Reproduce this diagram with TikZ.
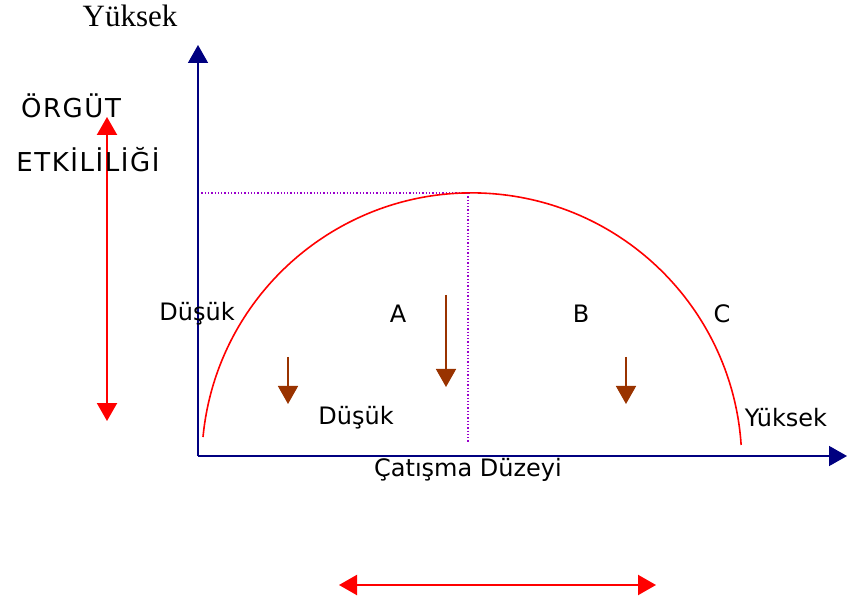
\documentclass[tikz,border=0pt]{standalone}
\usepackage{fontspec}
\setmainfont{DejaVu Sans}
\newfontfamily\serifnm{Liberation Serif}
\usetikzlibrary{arrows.meta}
\definecolor{axisblue}{RGB}{0,0,128}
\definecolor{curvered}{RGB}{255,0,0}
\definecolor{brownarr}{RGB}{153,51,0}
\definecolor{guidepurple}{RGB}{153,0,204}
\tikzset{
  lbl/.style={inner sep=0pt, font=\fontsize{24}{28}\selectfont},
  widelbl/.style={inner sep=0pt, font=\fontsize{26}{30}\selectfont\addfontfeature{LetterSpace=6}},
  axisline/.style={draw=axisblue, line width=1.6pt, -{Triangle[length=18pt,width=20pt]}},
  redarrow/.style={draw=curvered, line width=2.2pt, {Triangle[length=18pt,width=20pt]}-{Triangle[length=18pt,width=20pt]}},
  brownarrow/.style={draw=brownarr, line width=1.6pt, -{Triangle[length=18pt,width=20pt]}},
  guide/.style={draw=guidepurple, line width=1.3pt, dotted},
  curve/.style={draw=curvered, line width=1.6pt}
}
\begin{document}
\begin{tikzpicture}[x=1pt,y=-1pt]
\useasboundingbox (0,0) rectangle (847,604);
% coordinates
\coordinate (origin) at (198,456);
\coordinate (ytop) at (198,45);
\coordinate (xend) at (847,456);
\coordinate (peak) at (470,193);
\coordinate (yguide) at (198,193);
\coordinate (xguide) at (468,443);
\coordinate (rvtop) at (107,117);
\coordinate (rvbot) at (107,421);
\coordinate (rhl) at (339,585);
\coordinate (rhr) at (656,585);
\coordinate (b1s) at (288,357); \coordinate (b1e) at (288,404);
\coordinate (b2s) at (446,295); \coordinate (b2e) at (446,387);
\coordinate (b3s) at (626,357); \coordinate (b3e) at (626,404);
% guides
\draw[guide] (yguide) -- (peak);
\draw[guide] (468,193) -- (xguide);
% axes
\draw[axisline] (origin) -- (ytop);
\draw[axisline] (origin) -- (xend);
% curve
\draw[curve] (203,437) arc[start angle=-174.5, end angle=-3.8, radius=270];
% red arrows
\draw[redarrow] (rvtop) -- (rvbot);
\draw[redarrow] (rhl) -- (rhr);
% brown arrows
\draw[brownarrow] (b1s) -- (b1e);
\draw[brownarrow] (b2s) -- (b2e);
\draw[brownarrow] (b3s) -- (b3e);
% texts
\node[inner sep=0pt, font=\serifnm\fontsize{31}{34}\selectfont] (yuksekTop) at (130,16) {Yüksek};
\node[widelbl] (orgut) at (71,106) {ÖRGÜT};
\node[widelbl] (etkililigi) at (88,160) {ETKİLİLİĞİ};
\node[lbl] (dusukL) at (197,314) {Düşük};
\node[lbl] (labA) at (398,314) {A};
\node[lbl] (labB) at (581,314) {B};
\node[lbl] (labC) at (722,314) {C};
\node[lbl] (dusukB) at (356,418) {Düşük};
\node[lbl] (yuksekR) at (786,418) {Yüksek};
\node[lbl] (catisma) at (468,470) {Çatışma Düzeyi};
\end{tikzpicture}
\end{document}
